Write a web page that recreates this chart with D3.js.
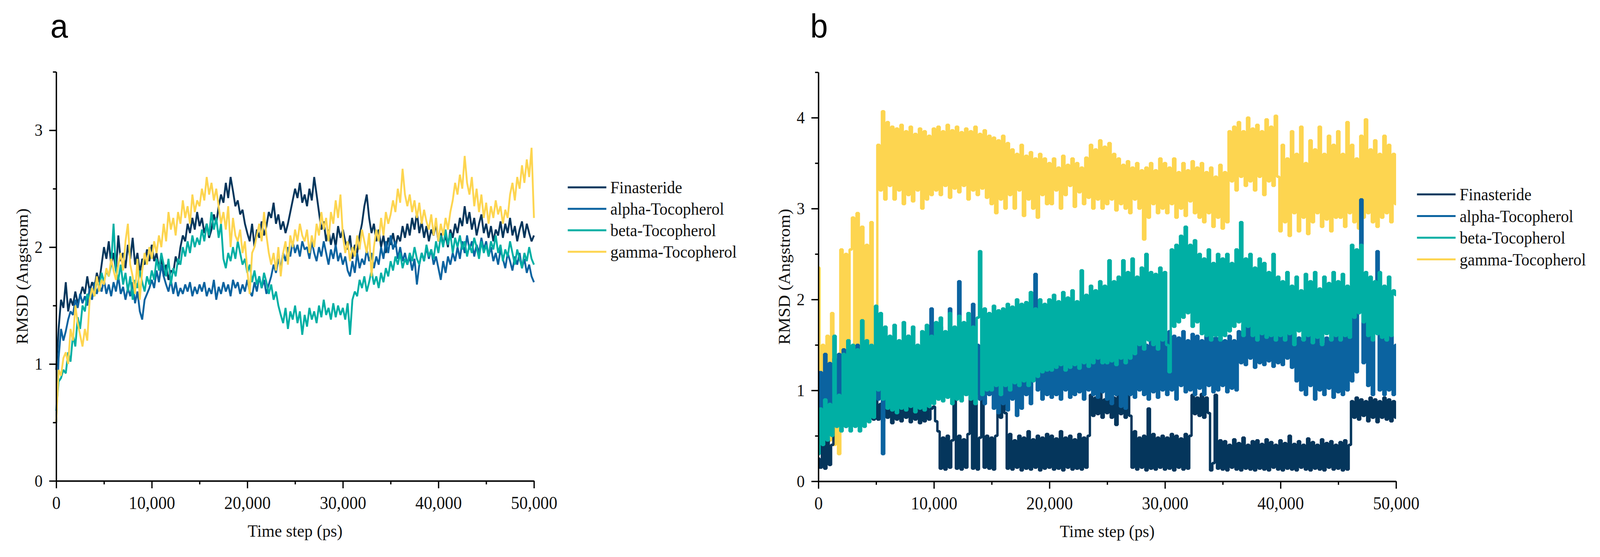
<!DOCTYPE html>
<html lang="en">
  <head>
    <meta charset="utf-8" />
    <script src="https://cdn.jsdelivr.net/npm/d3@7/dist/d3.min.js"></script>
    <style>
      html, body { margin: 0; padding: 0; background: #fff; overflow: hidden; }
      #chart { display: block; width: 100vw; height: 100vh; }
      .axis text { font-family: "Liberation Serif", "Times New Roman", serif; fill: #111; }
      .axis path, .axis line { stroke: #000; stroke-width: 3.5; }
      .title { font-family: "Liberation Serif", "Times New Roman", serif; font-size: 45px; fill: #111; }
      .legend text { font-family: "Liberation Serif", "Times New Roman", serif; font-size: 44px; fill: #111; }
      .tag { font-family: "Liberation Sans", Arial, sans-serif; font-size: 86px; fill: #000; }
      .series { fill: none; stroke-linejoin: bevel; }
    </style>
  </head>
  <body>
    <div id="container"></div>

    <script>
      const names = ["Finasteride", "alpha-Tocopherol", "beta-Tocopherol", "gamma-Tocopherol"];
      const colors = ["#05365c", "#0b63a0", "#00afa4", "#fdd550"];

      const xTicks = [0, 10000, 20000, 30000, 40000, 50000];
      const xMinor = [5000, 15000, 25000, 35000, 45000];

      // panel a, one value every 250 ps
      const finA = [
        0.95, 1.3, 1.55, 1.48, 1.7, 1.45, 1.56, 1.5, 1.62, 1.52, 1.58, 1.66, 1.6, 1.75, 1.62, 1.7, 1.65, 1.78, 1.7, 1.85,
        2.0, 1.9, 2.05, 1.85, 1.95, 1.8, 2.1, 1.88, 1.95, 1.82, 2.02, 1.9, 2.08, 1.85, 1.95, 1.78, 1.9, 1.85, 1.98, 1.88,
        2.02, 1.88, 1.95, 1.82, 1.9, 1.75, 1.85, 1.72, 1.8, 1.78, 1.92, 1.85, 2.0, 2.1, 2.05, 2.2, 2.12, 2.25, 2.15, 2.3,
        2.18, 2.25, 2.12, 2.2, 2.08, 2.15, 2.28, 2.2, 2.35, 2.45, 2.38, 2.55, 2.42, 2.6, 2.48, 2.35, 2.4, 2.28, 2.32, 2.2,
        2.12, 2.05, 2.2, 2.0, 2.15, 2.08, 2.22, 2.1, 2.18, 2.3, 2.25, 2.38, 2.2, 2.28, 2.15, 2.22, 2.12, 2.2, 2.3, 2.4,
        2.5, 2.42, 2.55, 2.38, 2.45, 2.35, 2.5, 2.4, 2.6, 2.45, 2.3, 2.15, 2.22, 2.05, 2.15, 2.02, 2.12, 2.0, 2.18, 2.08,
        2.15, 2.05, 1.98, 2.1, 1.9, 2.02, 1.95, 2.1, 2.2, 2.35, 2.45, 2.25, 2.12, 2.2, 2.05, 2.15, 2.0, 2.1, 1.95, 2.08,
        2.02, 2.12, 2.0, 2.1, 2.05, 2.18, 2.08, 2.2, 2.1, 2.25, 2.15, 2.3, 2.12, 2.22, 2.08, 2.18, 2.05, 2.15, 2.1, 2.2,
        2.05, 2.12, 2.02, 2.1, 2.0, 2.15, 2.08, 2.2, 2.12, 2.25, 2.18, 2.35, 2.2, 2.3, 2.15, 2.25, 2.1, 2.2, 2.28, 2.12,
        2.2, 2.08, 2.18, 2.05, 2.15, 2.1, 2.22, 2.08, 2.2, 2.12, 2.25, 2.1, 2.18, 2.05, 2.15, 2.22, 2.08, 2.2, 2.12, 2.05,
        2.1
      ];
      const alphaA = [
        0.5, 1.05, 1.3, 1.2, 1.28, 1.38, 1.45, 1.42, 1.55, 1.48, 1.6, 1.52, 1.58, 1.5, 1.65, 1.55, 1.7, 1.6, 1.68, 1.62,
        1.72, 1.6, 1.68, 1.58, 1.7, 1.62, 1.75, 1.6, 1.66, 1.55, 1.65, 1.58, 1.7, 1.52, 1.62, 1.45, 1.38, 1.55, 1.6, 1.65,
        1.72, 1.65, 1.8, 1.7, 1.85, 1.75, 1.68, 1.62, 1.72, 1.6, 1.7, 1.58, 1.65, 1.6, 1.68, 1.62, 1.7, 1.58, 1.66, 1.6,
        1.68, 1.62, 1.7, 1.58, 1.65, 1.6, 1.72, 1.55, 1.66, 1.6, 1.7, 1.62, 1.68, 1.58, 1.72, 1.65, 1.7, 1.6, 1.68, 1.62,
        1.72, 1.62, 1.58, 1.7, 1.62, 1.75, 1.65, 1.72, 1.6, 1.68, 1.75, 1.85, 1.78, 1.9, 1.82, 1.95, 1.88, 2.0, 1.92, 2.05,
        1.95, 2.02, 1.92, 2.05, 1.98, 2.0, 1.9, 2.05, 1.95, 1.88, 2.0, 1.92, 2.05, 1.95, 1.85, 1.98, 1.9, 2.02, 1.88, 1.95,
        1.85, 1.92, 1.8, 1.75, 1.88, 1.78, 1.95, 1.82, 1.9, 1.85, 1.98, 1.88, 1.95, 1.82, 1.92, 1.85, 2.0, 1.9, 2.05, 1.95,
        2.1, 1.98, 2.05, 1.9, 2.0, 1.88, 1.95, 1.85, 1.92, 1.8, 1.9, 1.68, 1.85, 1.95, 1.88, 2.0, 1.9, 1.98, 1.85, 1.92,
        1.82, 1.72, 1.88, 1.78, 1.92, 1.85, 1.95, 1.88, 2.0, 1.9, 2.05, 1.95, 2.1, 1.98, 2.05, 1.92, 2.02, 1.95, 2.08, 1.98,
        2.05, 1.92, 2.0, 1.88, 1.95, 1.85, 1.98, 1.9, 1.82, 1.95, 1.88, 1.8, 1.92, 1.85, 1.95, 1.82, 1.9, 1.78, 1.85, 1.75,
        1.7
      ];
      const betaA = [
        0.6, 0.85, 0.88, 0.95, 0.92, 1.1, 1.02, 1.25, 1.15, 1.4, 1.3, 1.5, 1.45, 1.6, 1.55, 1.65, 1.58, 1.72, 1.65, 1.78,
        1.7, 1.8, 1.75, 1.85, 2.2, 1.8, 1.72, 1.85, 1.68, 1.78, 1.62, 1.75, 1.55, 1.72, 1.65, 1.8, 1.7, 1.62, 1.75, 1.68,
        1.8, 1.72, 1.9, 1.8, 1.95, 1.85, 1.75, 1.9, 1.68, 1.82, 1.75, 1.9, 1.85, 2.0, 1.92, 2.05, 1.95, 2.1, 2.0, 2.08,
        2.02, 2.15, 2.05, 2.2, 2.1, 2.3, 2.15, 2.25, 2.08, 2.2, 1.9, 1.82, 1.95, 1.88, 2.0, 1.9, 2.05, 1.95, 1.85, 1.9,
        1.78, 1.85, 1.7, 1.8, 1.68, 1.75, 1.65, 1.78, 1.7, 1.6, 1.68, 1.55, 1.62, 1.5, 1.42, 1.35, 1.48, 1.3, 1.45, 1.38,
        1.5, 1.35, 1.45, 1.25, 1.42, 1.32, 1.48, 1.38, 1.45, 1.35, 1.5, 1.4, 1.55, 1.42, 1.48, 1.38, 1.52, 1.4, 1.5, 1.42,
        1.48, 1.38, 1.52, 1.25, 1.55, 1.62, 1.58, 1.72, 1.65, 1.75, 1.62, 1.7, 1.8, 1.68, 1.75, 1.65, 1.78, 1.7, 1.82, 1.75,
        1.88, 1.8, 1.92, 1.85, 1.95, 1.82, 1.9, 1.85, 1.95, 1.88, 2.0, 1.9, 1.85, 1.95, 1.88, 2.02, 1.92, 1.98, 1.9, 2.05,
        1.95, 2.1, 2.0, 2.15, 2.02, 2.12, 1.95, 2.08, 2.0, 2.1, 1.98, 2.05, 1.92, 2.02, 1.95, 2.08, 2.0, 1.9, 2.05, 1.95,
        2.02, 1.92, 2.05, 1.98, 2.1, 1.95, 2.02, 1.88, 1.98, 1.92, 2.05, 1.95, 1.85, 1.98, 1.9, 1.82, 1.95, 1.88, 2.0, 1.9,
        1.85
      ];
      const gammaA = [
        0.5, 0.95, 0.9, 1.05, 1.1, 1.0, 1.3, 1.2, 1.5, 1.35, 1.25, 1.15, 1.3, 1.2, 1.55, 1.65, 1.58, 1.75, 1.62, 1.72,
        1.68, 1.82, 1.75, 1.9, 1.8, 1.72, 1.85, 1.95, 1.8, 2.05, 2.2, 1.85, 1.75, 1.6, 1.9, 1.55, 1.8, 1.95, 1.85, 2.0,
        1.9, 2.05, 1.95, 2.1, 2.0, 2.2, 2.05, 2.3, 2.15, 2.25, 2.1, 2.3, 2.2, 2.4, 2.25, 2.35, 2.2, 2.45, 2.3, 2.4,
        2.35, 2.5, 2.4, 2.6, 2.45, 2.55, 2.4, 2.5, 2.35, 2.2, 2.3, 2.15, 2.35, 2.0, 2.25, 2.1, 2.05, 2.15, 1.95, 2.05,
        1.8, 1.6, 1.95, 2.0, 2.1, 2.2, 2.05, 2.3, 2.1, 1.95, 1.85, 1.95, 1.8, 2.0, 1.75, 1.95, 2.05, 1.85, 2.1, 2.0,
        2.15, 2.05, 2.2, 2.1, 2.05, 2.15, 1.95, 2.1, 2.0, 2.2, 2.1, 2.3, 2.15, 2.25, 2.05, 2.3, 2.2, 2.4, 2.25, 2.45,
        2.1, 1.95, 2.05, 1.88, 2.0, 1.92, 2.1, 1.98, 2.15, 2.05, 1.95, 2.12, 1.75, 2.0, 2.15, 2.05, 2.25, 2.1, 2.3, 2.2,
        2.28, 2.4, 2.3, 2.5, 2.38, 2.67, 2.45, 2.35, 2.45, 2.3, 2.4, 2.25, 2.38, 2.2, 2.32, 2.22, 2.15, 2.28, 2.1, 2.25,
        2.05, 2.2, 2.1, 2.25, 2.15, 2.3, 2.4, 2.55, 2.45, 2.62, 2.5, 2.78, 2.55, 2.45, 2.6, 2.35, 2.5, 2.3, 2.45, 2.25,
        2.38, 2.2, 2.35, 2.25, 2.4, 2.28, 2.35, 2.2, 2.32, 2.25, 2.45, 2.55, 2.4, 2.6, 2.5, 2.7, 2.55, 2.75, 2.6, 2.85,
        2.25
      ];

      // panel b, one value every 200 ps (alternating high / low excursions)
      const finB = [
        0.25, 0.15, 0.5, 0.14, 0.45, 0.18, 0.4, 0.78, 0.62, 0.82, 0.65, 0.8, 0.6, 0.85, 0.66, 0.78, 0.64, 0.84, 0.68, 0.8, 0.65, 0.86, 0.7, 0.82, 0.68,
        0.9, 0.68, 0.85, 0.66, 0.92, 0.7, 0.82, 0.64, 0.88, 0.68, 0.8, 0.66, 0.85, 0.7, 0.82, 0.65, 0.86, 0.68, 0.8, 0.64, 0.84, 0.66, 0.82, 0.68, 0.8,
        0.82, 0.66, 0.55, 0.14, 0.48, 0.13, 0.5, 0.15, 0.45, 0.95, 0.14, 0.5, 0.13, 0.46, 0.15, 0.52, 1.0, 0.14, 0.9, 0.13, 0.48, 0.95, 0.15, 0.5, 0.14,
        0.48, 0.13, 0.5, 0.92, 0.7, 0.95, 0.75, 0.14, 0.52, 0.13, 0.45, 0.15, 0.5, 0.12, 0.48, 0.14, 0.55, 0.13, 0.46, 0.15, 0.5, 0.12, 0.48, 0.14, 0.52,
        0.15, 0.5, 0.13, 0.47, 0.14, 0.55, 0.12, 0.48, 0.15, 0.5, 0.13, 0.46, 0.14, 0.52, 0.13, 0.48, 0.15, 0.5, 0.95, 0.72, 0.92, 0.74, 0.98, 0.7, 0.9,
        0.75, 0.95, 0.7, 0.92, 0.62, 0.96, 0.74, 0.9, 0.7, 0.94, 0.72, 0.15, 0.55, 0.13, 0.48, 0.15, 0.5, 0.12, 0.8, 0.14, 0.52, 0.13, 0.48, 0.15, 0.5,
        0.13, 0.48, 0.14, 0.52, 0.12, 0.5, 0.15, 0.47, 0.13, 0.52, 0.14, 0.5, 0.95, 0.74, 0.92, 0.72, 0.96, 0.7, 0.92, 0.75, 0.12, 0.2, 0.95, 0.14, 0.45,
        0.13, 0.44, 0.12, 0.4, 0.15, 0.46, 0.13, 0.42, 0.12, 0.48, 0.14, 0.4, 0.13, 0.44, 0.12, 0.45, 0.14, 0.41, 0.13, 0.46, 0.12, 0.43, 0.15, 0.4, 0.13,
        0.45, 0.12, 0.42, 0.14, 0.5, 0.13, 0.41, 0.12, 0.44, 0.15, 0.4, 0.13, 0.47, 0.12, 0.43, 0.14, 0.4, 0.13, 0.46, 0.12, 0.42, 0.15, 0.44, 0.13, 0.4,
        0.14, 0.43, 0.12, 0.45, 0.13, 0.4, 0.88, 0.7, 0.92, 0.68, 0.9, 0.72, 0.88, 0.66, 0.92, 0.7, 0.9, 0.65, 0.88, 0.7, 0.92, 0.68, 0.9, 0.66, 0.88,
        0.7
      ];
      const alphaB = [
        0.3, 1.2, 0.5, 1.4, 0.6, 1.3, 0.7, 1.35, 0.75, 1.4, 0.8, 1.45, 0.85, 1.3, 0.75, 1.35, 0.8, 1.5, 0.85, 1.4, 0.78, 1.45, 0.82, 1.38, 0.8,
        1.35, 0.9, 1.4, 0.3, 1.3, 0.85, 1.42, 0.9, 1.35, 0.8, 1.45, 0.88, 1.4, 0.85, 1.6, 0.9, 1.45, 0.8, 1.5, 0.9, 1.4, 0.85, 1.55, 0.95, 1.9,
        0.95, 1.6, 1.0, 1.7, 0.95, 1.6, 1.05, 1.9, 1.0, 1.65, 1.05, 2.2, 1.0, 1.7, 0.95, 1.6, 1.05, 1.95, 0.95, 1.5, 0.9, 1.45, 0.85, 1.5, 0.95,
        1.3, 0.8, 1.35, 0.75, 1.25, 0.85, 1.4, 0.78, 1.3, 0.9, 1.35, 0.72, 1.25, 0.8, 1.3, 0.95, 1.4, 0.85, 1.3, 2.28, 1.0, 1.35, 0.9, 1.45, 0.95,
        1.45, 0.92, 1.4, 0.95, 1.48, 0.9, 1.35, 1.0, 1.45, 0.92, 1.5, 0.95, 1.4, 0.98, 1.45, 0.9, 1.38, 1.0, 1.48, 0.95, 1.42, 0.92, 1.5, 0.98, 1.45,
        0.9, 1.5, 0.85, 1.45, 0.95, 1.55, 0.82, 1.4, 0.8, 1.73, 0.95, 1.6, 0.92, 1.55, 1.0, 1.62, 0.95, 1.5, 0.9, 1.58, 0.98, 1.55, 0.92, 1.6, 1.0,
        1.55, 0.95, 1.65, 1.0, 1.6, 0.9, 1.58, 1.05, 1.65, 0.98, 1.55, 1.0, 1.62, 0.95, 1.6, 1.02, 1.55, 0.95, 1.6, 1.05, 1.65, 0.98, 1.58, 1.0, 1.62,
        1.05, 1.55, 0.98, 1.6, 1.02, 1.55, 1.0, 1.65, 1.3, 1.72, 1.28, 1.7, 1.35, 1.75, 1.25, 1.68, 1.3, 1.72, 1.28, 1.65, 1.32, 1.75, 1.26, 1.7, 1.3,
        1.68, 1.28, 1.72, 1.35, 1.65, 1.25, 1.62, 1.1, 1.58, 1.0, 1.55, 0.95, 1.6, 1.05, 1.55, 0.9, 1.6, 1.0, 1.52, 0.95, 1.58, 1.02, 1.55, 0.92, 1.6,
        0.98, 1.55, 0.95, 1.6, 1.0, 1.85, 1.1, 1.9, 1.2, 2.4, 3.1, 1.3, 1.85, 1.05, 1.6, 0.95, 1.65, 2.53, 1.0, 1.6, 0.95, 1.55, 1.0, 1.6, 0.95,
        1.5
      ];
      const betaB = [
        0.3, 0.8, 0.4, 0.9, 0.45, 0.85, 0.5, 1.6, 0.6, 0.95, 0.55, 1.4, 0.6, 1.55, 0.55, 1.5, 0.6, 1.45, 0.55, 1.77, 0.6, 1.55, 0.65, 1.5, 0.7,
        1.93, 1.0, 1.85, 0.9, 1.7, 0.8, 1.6, 0.78, 1.72, 0.75, 1.55, 0.8, 1.75, 0.78, 1.6, 0.82, 1.7, 0.76, 1.5, 0.8, 1.65, 0.78, 1.72, 0.82, 1.6,
        0.85, 1.75, 0.9, 1.8, 0.88, 1.65, 0.92, 1.85, 0.85, 1.7, 0.9, 1.82, 0.88, 1.75, 0.95, 1.85, 0.9, 1.7, 0.85, 1.8, 2.53, 0.95, 1.9, 1.0, 1.85,
        1.0, 1.93, 1.05, 1.88, 0.95, 1.9, 1.05, 1.95, 1.0, 1.92, 1.08, 2.0, 1.05, 1.95, 1.1, 1.97, 1.05, 2.08, 1.1, 1.9, 1.15, 2.0, 1.2, 1.95, 1.22,
        2.0, 1.22, 2.05, 1.25, 1.98, 1.28, 2.08, 1.22, 2.02, 1.25, 2.1, 1.28, 1.98, 1.24, 2.32, 1.3, 2.05, 1.26, 2.15, 1.3, 2.1, 1.35, 2.2, 1.3, 2.15,
        1.3, 2.43, 1.32, 2.2, 1.28, 2.25, 1.35, 2.43, 1.3, 2.3, 1.35, 2.45, 1.4, 2.25, 1.5, 2.35, 1.45, 2.5, 1.55, 2.3, 1.5, 2.28, 1.45, 2.35, 1.55,
        2.3, 1.5, 1.2, 2.55, 1.7, 2.6, 1.75, 2.7, 1.8, 2.8, 1.85, 2.6, 1.7, 2.65, 1.75, 2.5, 1.62, 2.45, 1.6, 2.55, 1.55, 2.4, 1.6, 2.5, 1.55,
        2.45, 1.6, 2.5, 1.65, 2.4, 1.7, 2.55, 1.75, 2.85, 1.6, 2.45, 1.7, 2.5, 1.6, 2.35, 1.55, 2.45, 1.62, 2.4, 1.58, 2.3, 1.6, 2.5, 1.55, 2.25,
        1.6, 2.2, 1.55, 2.3, 1.62, 2.15, 1.5, 2.25, 1.65, 2.1, 1.55, 2.28, 1.6, 2.2, 1.52, 2.3, 1.58, 2.12, 1.5, 2.25, 1.62, 2.18, 1.55, 2.3, 1.6,
        2.2, 1.55, 2.28, 1.6, 2.15, 1.58, 2.6, 1.8, 2.55, 1.85, 2.6, 1.75, 2.3, 1.6, 2.25, 1.55, 2.2, 1.62, 2.3, 1.58, 2.15, 1.55, 2.25, 1.6, 2.1,
        2.05
      ];
      const gammaB = [
        2.35, 0.4, 1.5, 0.35, 1.6, 0.45, 1.85, 0.4, 1.3, 0.3, 2.55, 0.8, 2.5, 1.1, 2.55, 2.9, 1.0, 2.95, 1.25, 2.8, 1.2, 2.6, 1.15, 2.85, 1.2,
        1.25, 3.7, 3.2, 4.07, 3.1, 3.95, 3.25, 3.9, 3.1, 3.88, 3.2, 3.92, 3.05, 3.85, 3.15, 3.9, 3.08, 3.82, 3.2, 3.88, 3.0, 3.85, 3.1, 3.8, 3.15,
        3.88, 3.2, 3.9, 3.15, 3.85, 3.25, 3.92, 3.12, 3.86, 3.22, 3.9, 3.18, 3.84, 3.25, 3.88, 3.1, 3.85, 3.2, 3.9, 3.15, 3.82, 3.22, 3.86, 3.12, 3.8,
        3.05, 3.78, 2.95, 3.75, 3.1, 3.8, 3.0, 3.72, 3.15, 3.65, 3.0, 3.6, 3.2, 3.7, 2.92, 3.58, 3.1, 3.62, 3.0, 3.55, 2.9, 3.6, 3.15, 3.55, 3.05,
        3.5, 3.05, 3.55, 3.2, 3.45, 3.0, 3.58, 3.15, 3.48, 3.25, 3.55, 3.02, 3.5, 3.18, 3.45, 3.05, 3.56, 3.12, 3.7, 3.0, 3.65, 3.1, 3.75, 3.0, 3.68,
        3.05, 3.72, 3.1, 3.6, 2.98, 3.55, 3.05, 3.48, 3.0, 3.52, 2.95, 3.45, 3.1, 3.5, 3.0, 3.42, 2.66, 3.45, 2.9, 3.5, 3.05, 3.42, 2.95, 3.55, 3.0,
        3.5, 2.95, 3.45, 3.05, 3.55, 2.9, 3.4, 3.0, 3.5, 2.92, 3.42, 3.08, 3.52, 2.95, 3.45, 2.9, 3.5, 2.85, 3.4, 2.95, 3.45, 2.8, 3.35, 2.9, 3.48,
        2.78, 3.4, 2.85, 3.85, 3.3, 3.9, 3.2, 3.95, 3.35, 3.85, 3.25, 4.0, 3.3, 3.88, 3.2, 3.92, 3.35, 3.85, 3.15, 3.98, 3.3, 3.9, 3.25, 4.02, 3.35,
        2.75, 3.7, 2.85, 3.55, 2.7, 3.85, 2.95, 3.6, 2.75, 3.9, 2.9, 3.5, 2.72, 3.75, 2.85, 3.65, 2.95, 3.9, 2.8, 3.6, 2.88, 3.8, 2.75, 3.7, 2.9,
        3.85, 2.9, 3.6, 2.8, 3.95, 2.95, 3.7, 2.85, 3.55, 2.78, 3.8, 2.9, 3.98, 2.95, 3.65, 2.85, 3.75, 2.8, 3.6, 2.9, 3.8, 2.95, 3.7, 2.85, 3.6,
        3.05
      ];

      const width = 4354;
      const height = 1427;

      // drawn in a fixed 4354x1427 frame, stretched to whatever the window is
      const svg = d3.select("#container").append("svg")
        .attr("id", "chart")
        .attr("viewBox", `0 0 ${width} ${height}`)
        .attr("preserveAspectRatio", "none");
      svg.append("rect").attr("width", width).attr("height", height).attr("fill", "#fff");

      function drawPanel(o) {
        const x = d3.scaleLinear().domain([0, 50000]).range([o.left, o.right]);
        const y = d3.scaleLinear().domain([0, o.yMax]).range([o.bottom, o.top]);
        const g = svg.append("g");

        // series
        o.order.forEach((k) => {
          const vals = o.series[k];
          const step = 50000 / (vals.length - 1);
          const line = d3.line().x((d, i) => x(i * step)).y((d) => y(d)).curve(o.curve);
          g.append("path").datum(vals).attr("class", "series")
            .attr("stroke", colors[k]).attr("stroke-width", o.lw).attr("d", line);
        });

        // axes
        const yMajor = d3.range(0, Math.floor(o.yMax) + 1);
        const yMinor = d3.range(0.5, o.yMax + 0.01, 1);

        g.append("g").attr("class", "axis").attr("transform", `translate(0,${o.bottom})`)
          .call(d3.axisBottom(x).tickValues(xMinor).tickSize(9).tickSizeOuter(0).tickFormat(""));
        g.append("g").attr("class", "axis").attr("transform", `translate(0,${o.bottom})`)
          .call(d3.axisBottom(x).tickValues(xTicks).tickSize(19).tickSizeOuter(0).tickPadding(20).tickFormat(d3.format(",")))
          .call((s) => s.selectAll("text").attr("font-size", 46));

        g.append("g").attr("class", "axis").attr("transform", `translate(${o.left},0)`)
          .call(d3.axisLeft(y).tickValues(yMinor).tickSize(9).tickSizeOuter(0).tickFormat(""));
        g.append("g").attr("class", "axis").attr("transform", `translate(${o.left},0)`)
          .call(d3.axisLeft(y).tickValues(yMajor).tickSize(19).tickSizeOuter(0).tickPadding(18).tickFormat(d3.format("d")))
          .call((s) => s.selectAll("text").attr("font-size", 44));

        g.append("text").attr("class", "title")
          .attr("x", (o.left + o.right) / 2).attr("y", o.bottom + 143)
          .attr("text-anchor", "middle").text("Time step (ps)");
        g.append("text").attr("class", "title")
          .attr("transform", `translate(${o.left - 78},${(o.top + o.bottom) / 2}) rotate(-90)`)
          .attr("text-anchor", "middle").attr("font-size", 44).text("RMSD (Angstrom)");

        g.append("text").attr("class", "tag").attr("x", o.tagX).attr("y", 96).text(o.tag);

        // legend
        const lg = g.append("g").attr("class", "legend");
        names.forEach((n, i) => {
          const ly = o.legY + i * o.legGap;
          lg.append("line").attr("x1", o.legX).attr("x2", o.legX + 105)
            .attr("y1", ly).attr("y2", ly).attr("stroke", colors[i]).attr("stroke-width", 5);
          lg.append("text").attr("x", o.legX + 116).attr("y", ly).attr("dy", "0.35em").text(n);
        });
      }

      drawPanel({
        tag: "a", tagX: 137,
        left: 153, right: 1453, top: 184, bottom: 1232, yMax: 3.5, lw: 5, curve: d3.curveLinear,
        series: [finA, alphaA, betaA, gammaA], order: [0, 1, 2, 3],
        legX: 1545, legY: 480, legGap: 55
      });

      drawPanel({
        tag: "b", tagX: 2205,
        left: 2227, right: 3799, top: 185, bottom: 1233, yMax: 4.5, lw: 6.5, curve: d3.curveStep,
        series: [finB, alphaB, betaB, gammaB], order: [3, 0, 1, 2],
        legX: 3856, legY: 498, legGap: 55.5
      });
    </script>
  </body>
</html>
